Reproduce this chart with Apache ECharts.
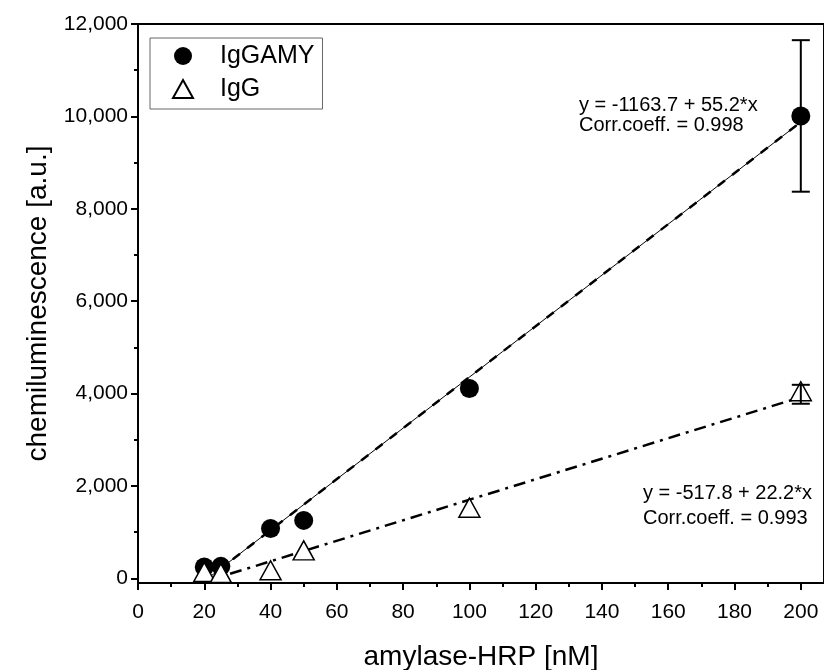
<!DOCTYPE html>
<html>
<head>
<meta charset="utf-8">
<script src="https://cdn.jsdelivr.net/npm/echarts@6/dist/echarts.min.js"></script>
<style>html,body{margin:0;padding:0;background:#fff}#c{width:824px;height:670px}</style>
</head>
<body>
<div id="c"></div>
<script>
// ---- data ----
const concentrations = [20, 25, 40, 50, 100, 200];
const iggamyValues = [245, 260, 1080, 1255, 4110, 10010];
const iggValues = [137, 115, 175, 606, 1530, 4050];
const iggamyErrorBar = [[200, 8370], [200, 11650]];
const iggErrorBar = [[200, 3780], [200, 4190]];
const iggamyFit = [[20, -59.7], [200, 9876.3]];
const iggFit = [[20, -73.8], [200, 3922.2]];
const xMajorTicks = [0, 20, 40, 60, 80, 100, 120, 140, 160, 180, 200];
const xMinorTicks = [10, 30, 50, 70, 90, 110, 130, 150, 170, 190];
const yMajorTicks = [0, 2000, 4000, 6000, 8000, 10000, 12000];
const yMinorTicks = [1000, 3000, 5000, 7000, 9000, 11000];
const fitText1 = ['y = -1163.7 + 55.2*x', 'Corr.coeff. = 0.998'];
const fitText2 = ['y = -517.8 + 22.2*x', 'Corr.coeff. = 0.993'];

const FONT = "'Liberation Sans', Arial, sans-serif";
const pair = (xs, ys) => xs.map((x, i) => [x, ys[i]]);

const chart = echarts.init(document.getElementById('c'), null, {renderer: 'canvas'});
const xBase = {type: 'value', min: 0, max: 207, gridIndex: 0};
const yBase = {type: 'value', min: -100, max: 12000, gridIndex: 0};

chart.setOption({
  animation: false,
  backgroundColor: '#fff',
  grid: {left: 138, right: 0, top: 24, bottom: 87, show: true, borderColor: '#000', borderWidth: 2,
    backgroundColor: 'transparent', containLabel: false, outerBoundsMode: 'none'},
  xAxis: [
    Object.assign({}, xBase, {
      position: 'bottom',
      name: 'amylase-HRP [nM]', nameLocation: 'middle', nameGap: 60,
      nameTextStyle: {fontFamily: FONT, fontSize: 28, color: '#000'},
      axisLine: {show: true, onZero: false, lineStyle: {color: '#000', width: 2}},
      axisTick: {show: true, inside: false, length: 7, customValues: xMajorTicks, lineStyle: {color: '#000', width: 2}},
      axisLabel: {show: true, customValues: xMajorTicks, margin: 19, fontFamily: FONT, fontSize: 21, color: '#000'},
      splitLine: {show: false}
    }),
    Object.assign({}, xBase, {
      position: 'bottom',
      axisLine: {show: false, onZero: false},
      axisTick: {show: true, length: 4, customValues: xMinorTicks, lineStyle: {color: '#000', width: 2}},
      axisLabel: {show: false},
      splitLine: {show: false}
    })
  ],
  yAxis: [
    Object.assign({}, yBase, {
      position: 'left',
      name: 'chemiluminescence [a.u.]', nameLocation: 'middle', nameGap: 86,
      nameTextStyle: {fontFamily: FONT, fontSize: 28, color: '#000'},
      axisLine: {show: true, onZero: false, lineStyle: {color: '#000', width: 2}},
      axisTick: {show: true, length: 7, customValues: yMajorTicks, lineStyle: {color: '#000', width: 2}},
      axisLabel: {show: true, customValues: yMajorTicks, margin: 10, fontFamily: FONT, fontSize: 21, color: '#000',
        formatter: v => v.toLocaleString('en-US')},
      splitLine: {show: false}
    }),
    Object.assign({}, yBase, {
      position: 'left',
      axisLine: {show: false, onZero: false},
      axisTick: {show: true, length: 4, customValues: yMinorTicks, lineStyle: {color: '#000', width: 2}},
      axisLabel: {show: false},
      splitLine: {show: false}
    })
  ],
  legend: {
    left: 150, top: 38, orient: 'vertical',
    padding: [4, 8, 6, 22], itemGap: 5, itemWidth: 20, itemHeight: 18,
    borderColor: '#666', borderWidth: 1, backgroundColor: '#fff',
    textStyle: {fontFamily: FONT, fontSize: 25, color: '#000', padding: [0, 0, 0, 22], lineHeight: 28},
    data: ['IgGAMY', 'IgG']
  },
  graphic: [
    {type: 'text', x: 579, y: 105, z: 100, style: {text: fitText1[0], font: '20px ' + FONT, fill: '#000', verticalAlign: 'middle'}},
    {type: 'text', x: 579, y: 125, z: 100, style: {text: fitText1[1], font: '20px ' + FONT, fill: '#000', verticalAlign: 'middle'}},
    {type: 'text', x: 643, y: 493, z: 100, style: {text: fitText2[0], font: '20px ' + FONT, fill: '#000', verticalAlign: 'middle'}},
    {type: 'text', x: 643, y: 518, z: 100, style: {text: fitText2[1], font: '20px ' + FONT, fill: '#000', verticalAlign: 'middle'}}
  ],
  series: [
    {name: 'IgGAMY fit', type: 'line', data: iggamyFit, showSymbol: false, symbol: 'none', z: 2,
      lineStyle: {color: '#000', width: 1, type: 'solid'}, silent: true},
    {name: 'IgGAMY fit dash', type: 'line', data: iggamyFit, showSymbol: false, symbol: 'none', z: 2,
      lineStyle: {color: '#000', width: 2.5, type: [9, 9]}, silent: true},
    {name: 'IgG fit', type: 'line', data: iggFit, showSymbol: false, symbol: 'none', z: 2,
      lineStyle: {color: '#000', width: 2.5, type: [12, 6, 3, 6]}, silent: true},
    {name: 'IgGAMY', type: 'scatter', data: pair(concentrations, iggamyValues), symbol: 'circle', symbolSize: 19, z: 3,
      itemStyle: {color: '#000', opacity: 1}},
    {name: 'IgG', type: 'scatter', data: pair(concentrations, iggValues), symbol: 'triangle', symbolSize: [21, 19], z: 4,
      itemStyle: {color: '#fff', borderColor: '#000', borderWidth: 1.5, opacity: 1}},
    {name: 'IgGAMY err', type: 'line', data: iggamyErrorBar, symbol: 'rect', symbolSize: [18, 2], showAllSymbol: true, z: 5,
      itemStyle: {color: '#000'}, lineStyle: {color: '#000', width: 2}, silent: true},
    {name: 'IgG err', type: 'line', data: iggErrorBar, symbol: 'rect', symbolSize: [18, 2], showAllSymbol: true, z: 5,
      itemStyle: {color: '#000'}, lineStyle: {color: '#000', width: 2}, silent: true}
  ]
});
</script>
</body>
</html>
